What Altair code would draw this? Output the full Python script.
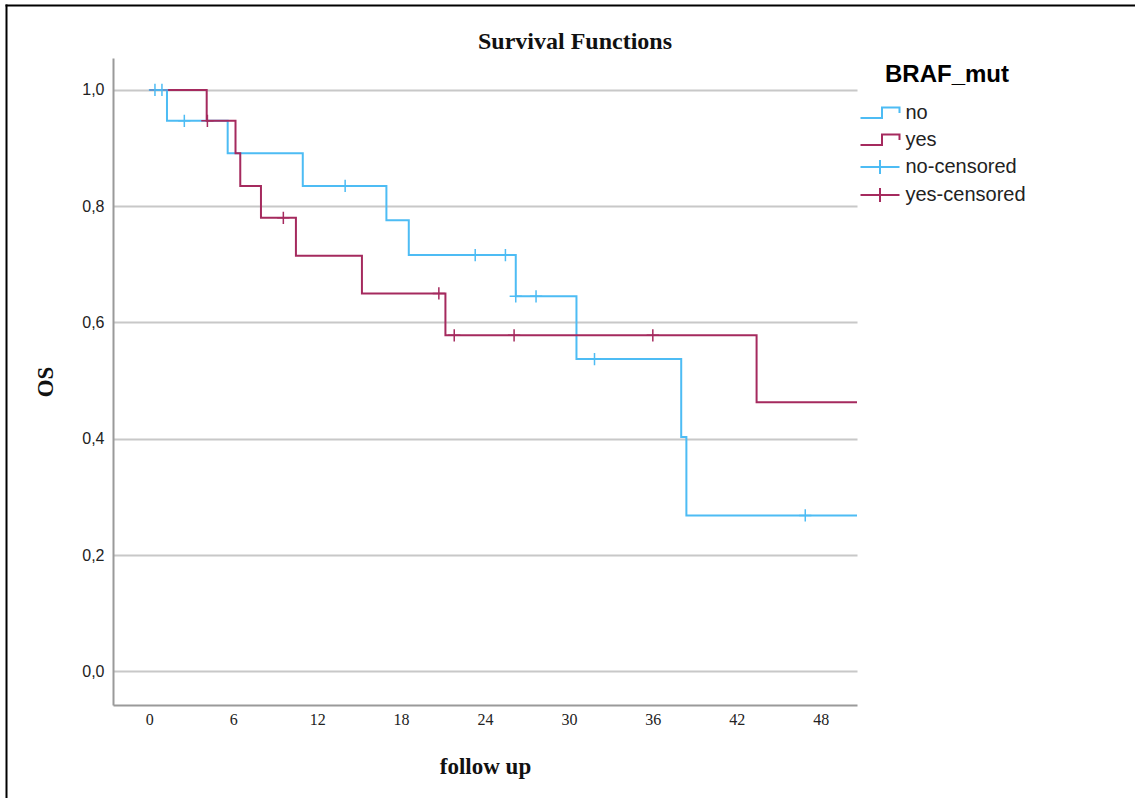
import altair as alt
import pandas as pd

# Kaplan-Meier step estimates (follow up in months, OS proportion)
no_times = [0, 1.26, 5.6, 10.97, 16.95, 18.55, 26.2, 30.54, 38.03, 38.4, 52]
no_surv = [1.0, 0.947, 0.891, 0.835, 0.776, 0.716, 0.645, 0.537, 0.403, 0.268, 0.268]
yes_times = [0, 4.1, 6.16, 6.5, 7.98, 10.48, 15.2, 21.17, 43.42, 52]
yes_surv = [1.0, 0.947, 0.891, 0.835, 0.780, 0.715, 0.650, 0.578, 0.463, 0.463]

# censored observations
no_cens_times = [0.4, 0.9, 2.5, 14.0, 23.3, 25.46, 26.2, 27.65, 31.83, 46.9]
no_cens_surv = [1.0, 1.0, 0.947, 0.835, 0.716, 0.716, 0.645, 0.645, 0.537, 0.268]
yes_cens_times = [4.15, 9.58, 20.7, 21.8, 26.08, 36.0]
yes_cens_surv = [0.947, 0.780, 0.650, 0.578, 0.578, 0.578]

groups = ["no", "yes", "no-censored", "yes-censored"]
group_colors = ["#4dbcf4", "#a52a5e", "#4dbcf4", "#a52a5e"]
no_color, yes_color = group_colors[0], group_colors[1]

x_ticks = [0, 6, 12, 18, 24, 30, 36, 42, 48]
y_ticks = [0.0, 0.2, 0.4, 0.6, 0.8, 1.0]

# legend glyphs: step line for curves, line with tick for censored
step_glyph = "M-1.95,0.5L0.2,0.5L0.2,-0.55L1.95,-0.55L1.95,0"
cens_glyph = "M-1.95,0L1.95,0M0,-0.7L0,0.7"
plus_glyph = "M-1,0L1,0M0,-1L0,1"

no_curve = pd.DataFrame({"t": no_times, "s": no_surv})
yes_curve = pd.DataFrame({"t": yes_times, "s": yes_surv})
no_cens = pd.DataFrame({"t": no_cens_times, "s": no_cens_surv})
yes_cens = pd.DataFrame({"t": yes_cens_times, "s": yes_cens_surv})
legend_rows = pd.DataFrame({"group": groups, "t": [0.0] * 4, "s": [1.0] * 4})

x_enc = alt.X(
    "t:Q",
    scale=alt.Scale(domain=[-2.6, 50.6], nice=False, zero=False),
    axis=alt.Axis(
        values=x_ticks, title="follow up", grid=False, tickSize=0,
        labelFont="Liberation Serif", labelFontSize=16, labelColor="#222222",
        labelPadding=6, labelFlush=False,
        domainColor="#9a9a9a", domainWidth=2,
        titleFont="Liberation Serif", titleFontSize=23, titleFontWeight="bold",
        titleColor="#111111", titleX=372, titleY=68, titleAlign="center",
        titleBaseline="alphabetic",
    ),
)
y_enc = alt.Y(
    "s:Q",
    scale=alt.Scale(domain=[-0.058, 1.055], nice=False, zero=False),
    axis=alt.Axis(
        values=y_ticks, title="OS", grid=True, gridColor="#c8c8c8", gridWidth=2,
        tickSize=0, labelPadding=9,
        labelExpr="replace(format(datum.value, '.1f'), '.', ',')",
        labelFont="Liberation Sans", labelFontSize=16, labelColor="#222222",
        domainColor="#9a9a9a", domainWidth=2,
        titleFont="Liberation Serif", titleFontSize=23, titleFontWeight="bold",
        titleColor="#111111", titleX=-68, titleY=323.5, titleAngle=270,
        titleAlign="center", titleBaseline="middle",
    ),
)

line_no = alt.Chart(no_curve).mark_line(
    interpolate="step-after", strokeWidth=2, clip=True, color=no_color
).encode(x=x_enc, y=y_enc)

line_yes = alt.Chart(yes_curve).mark_line(
    interpolate="step-after", strokeWidth=2, clip=True, color=yes_color
).encode(x="t:Q", y="s:Q")

cens_no = alt.Chart(no_cens).mark_point(
    shape=plus_glyph, size=150, filled=False, strokeWidth=1.5, opacity=1, color=no_color
).encode(x="t:Q", y="s:Q")

cens_yes = alt.Chart(yes_cens).mark_point(
    shape=plus_glyph, size=150, filled=False, strokeWidth=1.5, opacity=1, color=yes_color
).encode(x="t:Q", y="s:Q")

legend_props = dict(
    title="BRAF_mut", orient="none", legendX=756, legendY=5,
    titleFont="Liberation Sans", titleFontSize=24, titleFontWeight="bold",
    titleColor="#000000", titleAnchor="middle", titlePadding=15,
    labelFont="Liberation Sans", labelFontSize=20, labelColor="#222222",
    labelOffset=14.5, symbolSize=400, symbolStrokeWidth=2, symbolOpacity=1,
    rowPadding=6,
)
# carries the group legend; its own points stay invisible
legend_layer = alt.Chart(legend_rows).mark_point(filled=False, opacity=0).encode(
    x="t:Q",
    y="s:Q",
    color=alt.Color(
        "group:N", scale=alt.Scale(domain=groups, range=group_colors),
        legend=alt.Legend(**legend_props),
    ),
    shape=alt.Shape(
        "group:N",
        scale=alt.Scale(domain=groups, range=[step_glyph, step_glyph, cens_glyph, cens_glyph]),
        legend=alt.Legend(**legend_props),
    ),
)

title_layer = alt.Chart(pd.DataFrame({"k": [0]})).mark_text(
    font="Liberation Serif", fontSize=24, fontWeight="bold", color="#111111",
    align="center", baseline="alphabetic",
).encode(x=alt.value(462), y=alt.value(-9.5), text=alt.value("Survival Functions"))

# outer frame lines along the top and left edges
frame_src = pd.DataFrame({"k": [0]})
top_border = alt.Chart(frame_src).mark_rule(color="#000000", strokeWidth=2).encode(
    x=alt.value(-107.5), x2=alt.value(1030), y=alt.value(-52.5)
)
left_border = alt.Chart(frame_src).mark_rule(color="#000000", strokeWidth=2).encode(
    x=alt.value(-106.5), y=alt.value(-53.5), y2=alt.value(745)
)

chart = alt.layer(
    line_no, line_yes, cens_no, cens_yes, legend_layer, title_layer, top_border, left_border
).properties(
    width=744,
    height=647,
    background="#ffffff",
    autosize=alt.AutoSizeParams(type="none"),
    padding={"left": 113, "top": 58, "right": 278, "bottom": 93},
).configure_view(stroke="transparent", strokeWidth=0)

chart.save("out.html", embed_options={"renderer": "svg", "actions": False})
